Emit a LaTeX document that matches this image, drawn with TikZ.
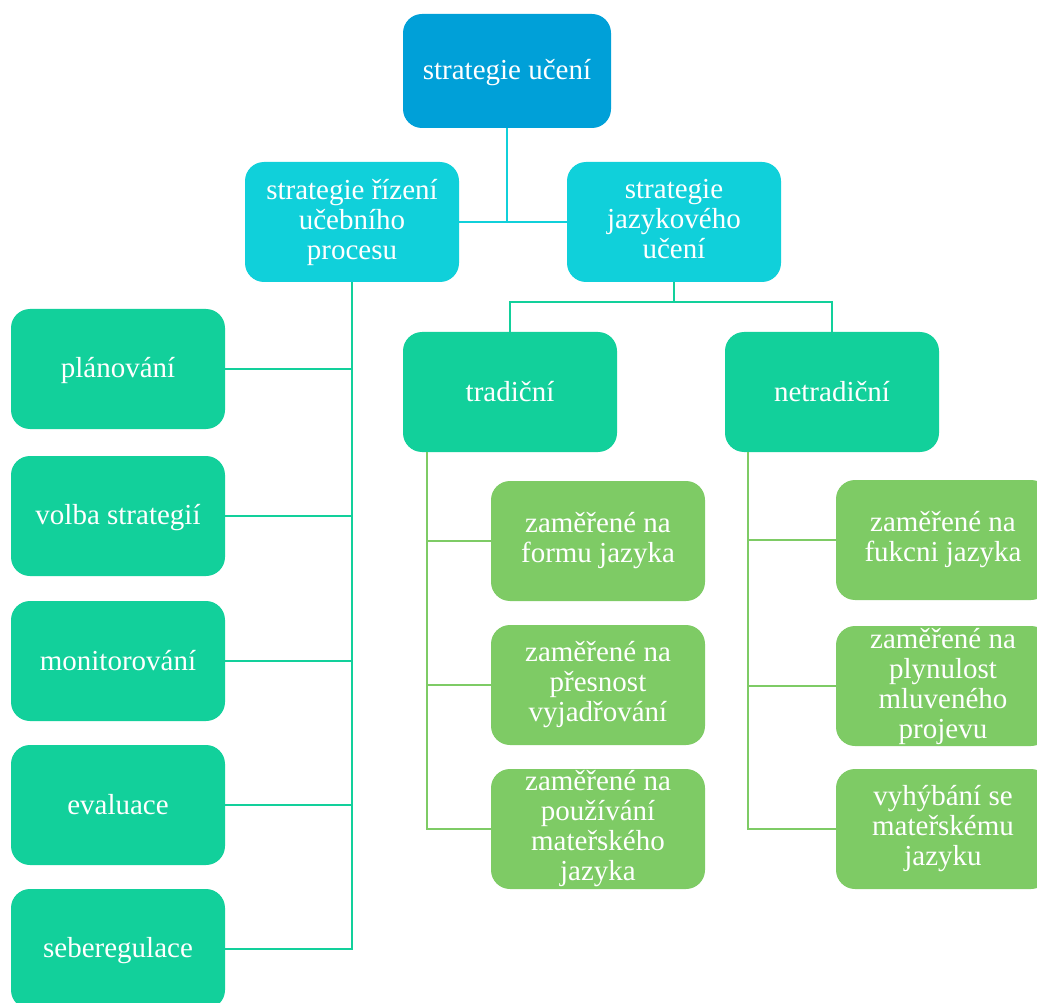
\documentclass[tikz,border=0pt]{standalone}
\usepackage{fontspec}
\setmainfont{Liberation Serif}
\definecolor{cTop}{RGB}{0,160,216}
\definecolor{cCyan}{RGB}{16,208,218}
\definecolor{cGreen}{RGB}{18,208,155}
\definecolor{cLight}{RGB}{126,203,101}
\newcommand\boxtopstrut{\rule{0pt}{24.1pt}}
\newcommand\boxbotstrut{\rule[-5.9pt]{0pt}{0pt}}
\tikzset{
  box/.style={rounded corners=19pt, minimum width=214pt, minimum height=120pt,
    inner sep=0pt, align=center, text=white, font=\fontsize{29}{30}\selectfont,
    execute at begin node=\boxtopstrut, execute at end node=\boxbotstrut},
  topbox/.style={box, fill=cTop, minimum width=208pt, minimum height=114pt},
  cyanbox/.style={box, fill=cCyan},
  greenbox/.style={box, fill=cGreen},
  lightbox/.style={box, fill=cLight},
  cyanline/.style={draw=cCyan, line width=2.8pt},
  greenline/.style={draw=cGreen, line width=2.8pt},
  lightline/.style={draw=cLight, line width=2.8pt},
}
\begin{document}
\begin{tikzpicture}[x=1pt,y=-1pt]
\useasboundingbox (0,0) rectangle (1037,1003);
% nodes
\node[topbox] (top) at (507,71) {strategie učení};
\node[cyanbox] (ra) at (352,222) {strategie řízení\\učebního\\procesu};
\node[cyanbox] (rb) at (674,222) {strategie\\jazykového\\učení};
\node[greenbox] (pla) at (118,369) {plánování};
\node[greenbox] (vol) at (118,516) {volba strategií};
\node[greenbox] (mon) at (118,661) {monitorování};
\node[greenbox] (eva) at (118,805) {evaluace};
\node[greenbox] (seb) at (118,949) {seberegulace};
\node[greenbox] (trad) at (510,392) {tradiční};
\node[greenbox] (ntrad) at (832,392) {netradiční};
\node[lightbox] (t1) at (598,541) {zaměřené na\\formu jazyka};
\node[lightbox] (t2) at (598,685) {zaměřené na\\přesnost\\vyjadřování};
\node[lightbox] (t3) at (598,829) {zaměřené na\\používání\\mateřského\\jazyka};
\node[lightbox] (n1) at (943,540) {zaměřené na\\fukcni jazyka};
\node[lightbox] (n2) at (943,686) {zaměřené na\\plynulost\\mluveného\\projevu};
\node[lightbox] (n3) at (943,829) {vyhýbání se\\mateřskému\\jazyku};
% connectors level 1
\draw[cyanline] (top.south) -- (top.south |- ra.east);
\draw[cyanline] (ra.east) -- (rb.west);
% left branch
\draw[greenline] (ra.south) |- (seb.east);
\draw[greenline] (pla.east) -- (pla.east -| ra.south);
\draw[greenline] (vol.east) -- (vol.east -| ra.south);
\draw[greenline] (mon.east) -- (mon.east -| ra.south);
\draw[greenline] (eva.east) -- (eva.east -| ra.south);
% right branch
\coordinate (jb) at (674,302);
\draw[greenline] (rb.south) -- (jb);
\draw[greenline] (trad.north) |- (jb) -| (ntrad.north);
% traditional children
\coordinate (tl) at (427,452);
\draw[lightline] (tl) |- (t3.west);
\draw[lightline] (t1.west) -- (t1.west -| tl);
\draw[lightline] (t2.west) -- (t2.west -| tl);
% non-traditional children
\coordinate (nl) at (748,452);
\draw[lightline] (nl) |- (n3.west);
\draw[lightline] (n1.west) -- (n1.west -| nl);
\draw[lightline] (n2.west) -- (n2.west -| nl);
\end{tikzpicture}
\end{document}
